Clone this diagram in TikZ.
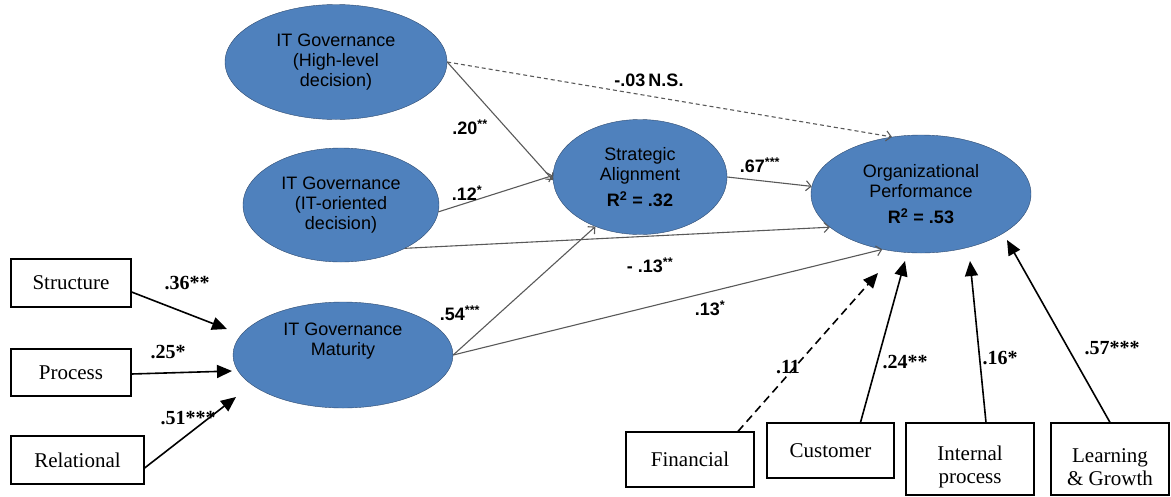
\documentclass[tikz,border=0pt]{standalone}
\usepackage{fontspec}
\setmainfont{Liberation Serif}
\setsansfont{Liberation Sans}
\usetikzlibrary{shapes,arrows.meta,positioning}
\definecolor{latblue}{HTML}{4F81BD}
\definecolor{latedge}{HTML}{2F4B70}

\begin{document}
\begin{tikzpicture}[x=1pt,y=-1pt]
    \tikzset{
        latent/.style = {ellipse, draw=latedge, fill=latblue, thin, inner sep=0pt, align=center,
                         font=\sffamily\fontsize{18}{20}\selectfont},
        ltext/.style = {align=center, font=\sffamily\fontsize{18}{20}\selectfont},
        box/.style = {rectangle, draw=black, line width=1.2pt, align=center,
                      font=\fontsize{21}{23}\selectfont},
        path/.style = {draw=black!65, line width=1.1pt, -{Straight Barb[length=5pt,width=10pt]}},
        ind/.style = {draw=black, line width=1.6pt, -{Triangle[length=15pt,width=13pt]}},
        coef/.style = {font=\sffamily\bfseries\fontsize{18}{20}\selectfont},
        wcoef/.style = {font=\bfseries\fontsize{20}{22}\selectfont}
    }
    \useasboundingbox (0,0) rectangle (1171,496);

    % latent constructs
    \node[latent, minimum width=222pt, minimum height=115pt](high) at (336,62){IT Governance\\(High-level\\decision)};
    \node[latent, minimum width=196pt, minimum height=114pt](itor) at (341,205){IT Governance\\(IT-oriented\\decision)};
    \node[latent, minimum width=220pt, minimum height=106pt](mat) at (343,355){};
    \node[ltext](matText) at (343,341){IT Governance\\Maturity};
    \node[latent, minimum width=174pt, minimum height=115pt](align) at (640,177){Strategic\\Alignment\\[6pt]\textbf{R\textsuperscript{2} = .32}};
    \node[latent, minimum width=220pt, minimum height=118pt](perf) at (921,194){Organizational\\Performance\\[6pt]\textbf{R\textsuperscript{2} = .53}};

    % indicators
    \node[box, minimum width=120pt, minimum height=48pt](struct) at (71,283){Structure};
    \node[box, minimum width=120pt, minimum height=47pt](proc) at (71,372.5){Process};
    \node[box, minimum width=133pt, minimum height=48pt](relat) at (77.5,460){Relational};

    \node[box, minimum width=128pt, minimum height=55pt](fin) at (690,459.5){Financial};
    \node[box, minimum width=127pt, minimum height=55pt](cust) at (830.5,450.5){Customer};
    \node[box, minimum width=128pt, minimum height=72pt](intern) at (970,459){\rule{0pt}{30pt}Internal\\process};
    \node[box, minimum width=118pt, minimum height=72pt](learn) at (1110,459){\rule{0pt}{30pt}Learning\\\& Growth};

    % arrow tips near the latent constructs
    \coordinate (tStruct) at (227,329);
    \coordinate (tProc) at (232,371);
    \coordinate (tRel) at (236,397);
    \coordinate (tFin) at (878,273);
    \coordinate (tCust) at (905,261);
    \coordinate (tIntern) at (970,261);
    \coordinate (tLearn) at (1007,240);

    % structural paths
    \path [path] (high.east) -- (align.182);
    \path [path] (itor.-4) -- (align.179);
    \path [path, dash pattern=on 4pt off 3pt] (high.east) -- (perf.117);
    \path [path] (align.east) -- (perf.176);
    \path [path] (itor.-34) -- (perf.200);
    \path [path] (mat.east) -- (align.228);
    \path [path] (mat.east) -- (perf.235);

    % measurement paths
    \path [ind] ([yshift=-9pt]struct.east) -- (tStruct);
    \path [ind] ([yshift=-1.5pt]proc.east) -- (tProc);
    \path [ind] ([yshift=-8pt]relat.east) -- (tRel);
    \path [ind, dash pattern=on 8pt off 5pt] ([xshift=48pt]fin.north) -- (tFin);
    \path [ind] ([xshift=30pt]cust.north) -- (tCust);
    \path [ind] ([xshift=16pt]intern.north) -- (tIntern);
    \path [ind] (learn.north) -- (tLearn);

    % coefficients
    \node[coef](cHigh) at (470,127){.20\textsuperscript{**}};
    \node[coef](cItor) at (467,193){.12\textsuperscript{*}};
    \node[coef](cNs) at (649,80){-.03\,N.S.};
    \node[coef](cAlign) at (760,165){.67\textsuperscript{***}};
    \node[coef](cItorP) at (650,265){- .13\textsuperscript{**}};
    \node[coef](cMat) at (460,313){.54\textsuperscript{***}};
    \node[coef](cMatP) at (710,308){.13\textsuperscript{*}};

    \node[wcoef](cStruct) at (187,283){.36**};
    \node[wcoef](cProc) at (168,352){.25*};
    \node[wcoef](cRel) at (188,418){.51***};
    \node[wcoef](cFin) at (788,367){.11};
    \node[wcoef](cCust) at (905,362){.24**};
    \node[wcoef](cIntern) at (1000,358){.16*};
    \node[wcoef](cLearn) at (1112,348){.57***};

\end{tikzpicture}
\end{document}
